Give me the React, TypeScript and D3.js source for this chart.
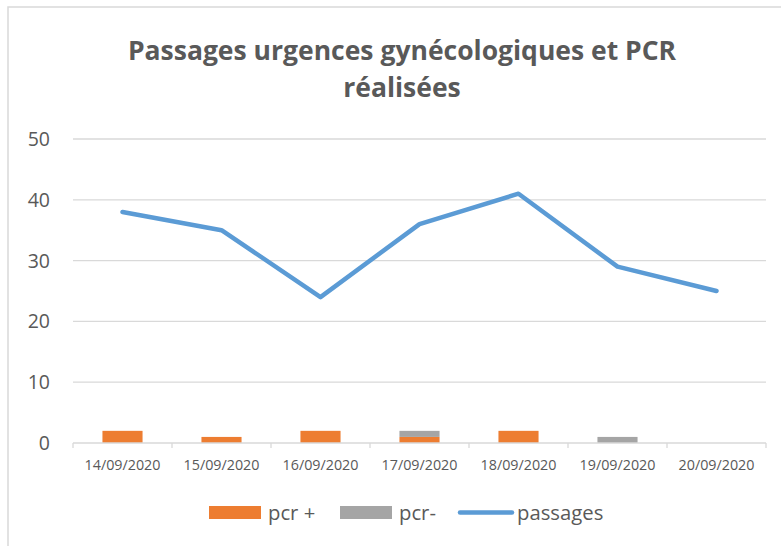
import React from 'react';
import * as d3 from 'd3';

// values
const dates = ['14/09/2020', '15/09/2020', '16/09/2020', '17/09/2020', '18/09/2020', '19/09/2020', '20/09/2020'];
const pcrPos = [2, 1, 2, 1, 2, 0, 0];
const pcrNeg = [0, 0, 0, 1, 0, 1, 0];
const passages = [38, 35, 24, 36, 41, 29, 25];
const yTicks = [0, 10, 20, 30, 40, 50];
const titleLines = ['Passages urgences gynécologiques et PCR', 'réalisées'];

const W = 781;
const H = 546;
const FONT = '"Open Sans", Calibri, sans-serif';
const TEXT = '#595959';
const GRID = '#D9D9D9';
const ORANGE = '#ED7D31';
const GREY = '#A5A5A5';
const BLUE = '#5B9BD5';

const App = () => {
  const x = d3.scaleBand<string>().domain(dates).range([73, 766]).padding(0);
  const y = d3.scaleLinear().domain([0, 50]).range([443, 139]);
  const barW = x.bandwidth() * 0.405;

  const stacked = d3.stack<number>().keys(['pos', 'neg'])
    .value((i, k) => (k === 'pos' ? pcrPos[i] : pcrNeg[i]))(d3.range(dates.length));

  const line = d3.line<number>()
    .x((_, i) => (x(dates[i]) as number) + x.bandwidth() / 2)
    .y(d => y(d));

  const legend = [
    { label: 'pcr +', type: 'rect', color: ORANGE, x: 209 },
    { label: 'pcr-', type: 'rect', color: GREY, x: 340 },
    { label: 'passages', type: 'line', color: BLUE, x: 458 },
  ];

  return (
    <svg width={W} height={H} style={{ position: 'absolute', left: 0, top: 0, background: '#fff' }}>
      <rect x={8} y={7} width={W} height={H} fill="#fff" stroke={GRID} strokeWidth={1.5} />

      {titleLines.map((t, i) => (
        <text key={t} x={402} y={60 + i * 37} textAnchor="middle" fontFamily={FONT}
          fontWeight={700} fontSize={26.5} fill={TEXT}>{t}</text>
      ))}

      {yTicks.map(t => (
        <g key={t}>
          {t > 0 && <line x1={73} x2={766} y1={y(t)} y2={y(t)} stroke={GRID} strokeWidth={1.3} />}
          <text x={50} y={y(t)} dy="0.36em" textAnchor="end" fontFamily={FONT} fontSize={19.5} fill={TEXT}>{t}</text>
        </g>
      ))}

      {stacked.map((s, si) => s.map((d, i) => (
        d[1] - d[0] > 0 ? (
          <rect key={si + '-' + i}
            x={(x(dates[i]) as number) + (x.bandwidth() - barW) / 2}
            y={y(d[1])} width={barW} height={y(d[0]) - y(d[1])}
            fill={si === 0 ? ORANGE : GREY} />
        ) : null
      )))}

      <line x1={73} x2={766} y1={y(0)} y2={y(0)} stroke={GRID} strokeWidth={1.3} />
      {d3.range(dates.length + 1).map(i => {
        const tx = 73 + i * x.step();
        return <line key={i} x1={tx} x2={tx} y1={y(0)} y2={y(0) + 5} stroke={GRID} strokeWidth={1.3} />;
      })}
      {dates.map(d => (
        <text key={d} x={(x(d) as number) + x.bandwidth() / 2} y={470} textAnchor="middle"
          fontFamily={FONT} fontSize={14.3} fill={TEXT}>{d}</text>
      ))}

      <path d={line(passages) as string} fill="none" stroke={BLUE} strokeWidth={4.5}
        strokeLinecap="round" strokeLinejoin="round" />

      {legend.map(l => (
        <g key={l.label}>
          {l.type === 'rect'
            ? <rect x={l.x} y={506} width={52} height={13} fill={l.color} />
            : <line x1={l.x + 2} x2={l.x + 54} y1={512.5} y2={512.5} stroke={l.color} strokeWidth={4.5} strokeLinecap="round" />}
          <text x={l.x + 59} y={520} fontFamily={FONT} fontSize={20.3} fill={TEXT}>{l.label}</text>
        </g>
      ))}
    </svg>
  );
};

export default App;
